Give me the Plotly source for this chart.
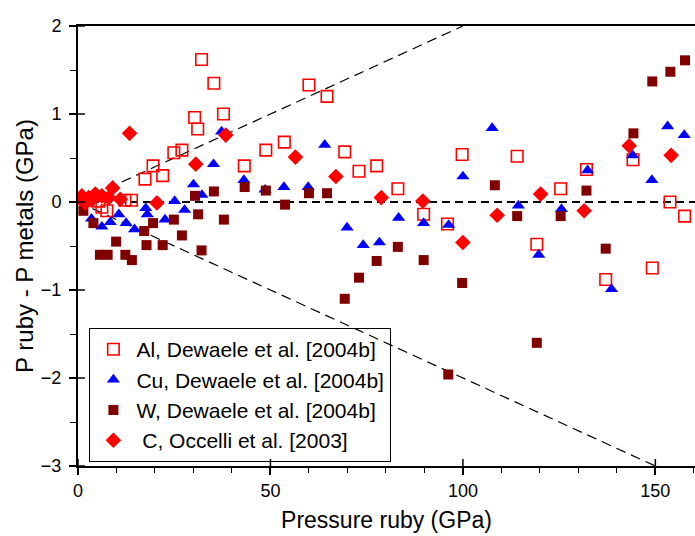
import plotly.graph_objects as go

# ---- data ----
al_x = [5.4, 6.2, 7.5, 12.2, 13.9, 17.4, 19.5, 22.0, 24.9, 27.0, 30.3, 31.1, 32.1, 35.3, 37.8,
        43.2, 48.8, 53.6, 60.0, 64.7, 69.3, 73.0, 77.6, 83.1, 89.8, 96.0, 99.8, 114.1, 119.2,
        125.4, 132.1, 137.1, 144.2, 149.2, 153.8, 157.6]
al_y = [0.01, -0.06, -0.10, 0.02, 0.02, 0.26, 0.41, 0.30, 0.56, 0.59, 0.96, 0.83, 1.62, 1.35, 1.00,
        0.41, 0.59, 0.68, 1.33, 1.20, 0.57, 0.35, 0.41, 0.15, -0.14, -0.25, 0.54, 0.52, -0.48,
        0.15, 0.37, -0.88, 0.48, -0.75, 0.00, -0.16]

cu_x = [3.5, 6.2, 8.4, 10.6, 12.5, 14.7, 17.6, 18.0, 22.6, 25.1, 27.7, 30.0, 32.2, 35.2, 37.3,
        43.1, 48.6, 53.5, 59.8, 64.1, 69.9, 74.1, 78.3, 83.3, 89.8, 96.3, 100.0, 107.6, 114.4,
        119.7, 125.6, 132.4, 138.6, 144.1, 149.1, 153.2, 157.5]
cu_y = [-0.19, -0.28, -0.23, -0.14, -0.24, -0.31, -0.07, -0.14, -0.20, 0.01, -0.09, 0.20, 0.08, 0.43, 0.80,
        0.25, 0.14, 0.17, 0.17, 0.65, -0.29, -0.49, -0.46, -0.18, -0.24, -0.26, 0.29, 0.84, -0.04,
        -0.60, -0.08, 0.36, -0.99, 0.53, 0.25, 0.86, 0.76]

w_x = [1.4, 4.0, 5.7, 7.7, 9.9, 12.3, 14.0, 17.2, 17.8, 19.5, 22.0, 24.9, 27.0, 30.4, 31.2, 32.1,
       35.3, 37.9, 43.3, 48.8, 53.8, 60.0, 64.7, 69.3, 73.0, 77.6, 83.1, 89.8, 96.2, 99.8, 108.3,
       114.1, 119.2, 125.4, 132.1, 137.1, 144.3, 149.2, 153.9, 157.7]
w_y = [-0.10, -0.24, -0.60, -0.60, -0.45, -0.60, -0.66, -0.33, -0.49, -0.24, -0.49, -0.20, -0.38, 0.07, -0.14, -0.55,
       0.12, -0.20, 0.17, 0.13, -0.03, 0.10, 0.10, -1.10, -0.86, -0.67, -0.51, -0.66, -1.96, -0.92, 0.19,
       -0.16, -1.60, -0.16, 0.13, -0.53, 0.78, 1.37, 1.48, 1.61]

c_x = [0.5, 1.0, 1.9, 2.8, 3.5, 4.5, 6.2, 8.0, 9.0, 11.0, 13.4, 20.5, 30.6, 38.4, 56.5, 67.0,
       78.8, 89.6, 100.0, 108.9, 120.2, 131.5, 143.2, 154.1]
c_y = [0.04, 0.07, -0.01, 0.05, 0.02, 0.09, 0.07, 0.05, 0.16, 0.03, 0.78, -0.01, 0.43, 0.76, 0.51, 0.29,
       0.05, 0.01, -0.46, -0.15, 0.09, -0.10, 0.64, 0.53]

names = ["Al, Dewaele et al. [2004b]", "Cu, Dewaele et al. [2004b]",
         "W, Dewaele et al. [2004b]", "\u00a0C, Occelli et al. [2003]"]

# +/- 2 % envelope
env_up_x = [0, 100]
env_up_y = [0, 2]
env_lo_x = [0, 150]
env_lo_y = [0, -3]

x_range = [0, 160.3]
y_range = [-3, 2]

FONT = "Liberation Sans, Arial, sans-serif"

fig = go.Figure()

for ex, ey in [(env_up_x, env_up_y), (env_lo_x, env_lo_y)]:
    fig.add_trace(go.Scatter(x=ex, y=ey, mode="lines", showlegend=False, hoverinfo="skip",
                             line=dict(color="black", width=1.2, dash="10px,6px")))

fig.add_trace(go.Scatter(x=al_x, y=al_y, mode="markers", name=names[0],
                         marker=dict(symbol="square-open", size=11.5, color="#FF0000",
                                     line=dict(width=1.6, color="#FF0000"))))
fig.add_trace(go.Scatter(x=cu_x, y=cu_y, mode="markers", name=names[1],
                         marker=dict(symbol="triangle-up", size=11.5, color="#0000FF",
                                     line=dict(width=0))))
fig.add_trace(go.Scatter(x=w_x, y=w_y, mode="markers", name=names[2],
                         marker=dict(symbol="square", size=10, color="#800000",
                                     line=dict(width=0))))
fig.add_trace(go.Scatter(x=c_x, y=c_y, mode="markers", name=names[3],
                         marker=dict(symbol="diamond", size=12, color="#FF0000",
                                     line=dict(width=0))))

shapes = [dict(type="line", xref="paper", yref="y", x0=0, x1=1, y0=0, y1=0,
               line=dict(color="black", width=2.2, dash="8px,5px"), layer="below")]
# inside halves of the crossing major ticks
for xv in [0, 50, 100, 150]:
    shapes.append(dict(type="line", xref="x", yref="y", ysizemode="pixel", yanchor=y_range[0],
                       x0=xv, x1=xv, y0=0, y1=7, line=dict(color="black", width=1.5)))
for yv in [-3, -2, -1, 0, 1, 2]:
    shapes.append(dict(type="line", xref="x", yref="y", xsizemode="pixel", xanchor=x_range[0],
                       y0=yv, y1=yv, x0=0, x1=7, line=dict(color="black", width=1.5)))

fig.update_layout(
    width=695, height=536,
    margin=dict(l=78, r=0, t=26, b=70),
    paper_bgcolor="white", plot_bgcolor="white",
    font=dict(family=FONT, color="black", size=18),
    shapes=shapes,
    showlegend=True,
    legend=dict(x=0.018, y=0.314, xanchor="left", yanchor="top",
                bgcolor="rgba(0,0,0,0)", bordercolor="black", borderwidth=1.3,
                font=dict(family=FONT, size=21, color="black"),
                tracegroupgap=0, itemsizing="trace", itemwidth=36),
    xaxis=dict(range=x_range, tickvals=[0, 50, 100, 150], ticks="outside", ticklen=7,
               tickwidth=1.5, tickcolor="black", showline=True, linecolor="black", linewidth=2,
               mirror=True, showgrid=False, zeroline=False,
               minor=dict(dtick=10, tick0=0, ticks="outside", ticklen=5, tickwidth=1.2,
                          tickcolor="black", showgrid=False),
               tickfont=dict(size=18),
               title=dict(text="Pressure ruby (GPa)", font=dict(size=23), standoff=12)),
    yaxis=dict(range=y_range, tickvals=[-3, -2, -1, 0, 1, 2], ticks="outside", ticklen=7,
               tickwidth=1.5, tickcolor="black", showline=True, linecolor="black", linewidth=2,
               showgrid=False, zeroline=False,
               minor=dict(dtick=0.5, tick0=0, ticks="outside", ticklen=6, tickwidth=1.2,
                          tickcolor="black", showgrid=False),
               tickfont=dict(size=18), ticklabelstandoff=4,
               title=dict(text="P ruby - P metals (GPa)", font=dict(size=24), standoff=0)),
)

fig.write_html("out.html")
